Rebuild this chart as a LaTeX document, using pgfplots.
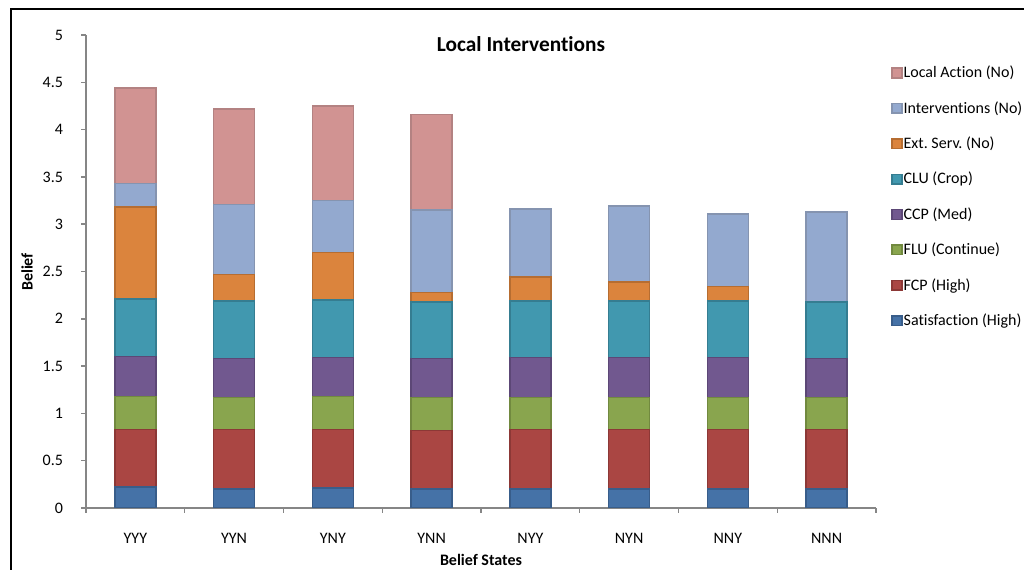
\documentclass[border=0pt]{standalone}
\usepackage{pgfplots}
\pgfplotsset{compat=1.18}
\usepackage{fontspec}
\setmainfont{Carlito}[Ligatures=NoCommon]
\frenchspacing

% series fills and edges
\definecolor{satF}{HTML}{4572A7}\definecolor{satE}{HTML}{385D8A}
\definecolor{fcpF}{HTML}{AA4643}\definecolor{fcpE}{HTML}{8C3836}
\definecolor{fluF}{HTML}{89A54E}\definecolor{fluE}{HTML}{71893F}
\definecolor{ccpF}{HTML}{71588F}\definecolor{ccpE}{HTML}{5C4776}
\definecolor{cluF}{HTML}{4198AF}\definecolor{cluE}{HTML}{357D91}
\definecolor{extF}{HTML}{DB843D}\definecolor{extE}{HTML}{B66D31}
\definecolor{intF}{HTML}{93A9CF}\definecolor{intE}{HTML}{8594B0}
\definecolor{locF}{HTML}{D19392}\definecolor{locE}{HTML}{B38282}
\definecolor{axisgray}{HTML}{868686}

\begin{document}
\begin{tikzpicture}[x=1pt,y=1pt]
\useasboundingbox (0,0) rectangle (768,427.5);
% outer chart frame
\draw[black,line width=1.1pt] (8.25,-2) -- (8.25,420.75) -- (770,420.75);

\begin{axis}[
  at={(64.5pt,46.5pt)}, anchor=south west,
  scale only axis, width=592.5pt, height=354.75pt,
  ybar stacked, bar width=30.75pt,
  xmin=-0.5, xmax=7.5, ymin=0, ymax=5,
  axis x line*=bottom, axis y line*=left,
  axis line style={axisgray,line width=1.1pt},
  xtick={0,...,7},
  xticklabels={YYY,YYN,YNY,YNN,NYY,NYN,NNY,NNN},
  minor xtick={-0.5,0.5,...,7.5},
  major x tick style={draw=none},
  minor x tick style={axisgray,line width=1.1pt},
  ytick={0,0.5,...,5},
  yticklabels={0,0.5,1,1.5,2,2.5,3,3.5,4,4.5,5},
  y tick style={axisgray,line width=1.1pt},
  tick align=outside,
  major tick length=3.75pt, minor tick length=3.75pt,
  tick label style={font=\fontsize{12}{14}\selectfont},
  yticklabel style={xshift=-10pt},
  xticklabel style={yshift=-12pt},
  /pgf/number format/assume math mode=true,
  reverse legend,
  legend cell align=left,
  legend image code/.code={\draw[#1] (0pt,-3.6pt) rectangle (7.4pt,3.6pt);},
  legend style={at={(1.019,0.937)}, anchor=north west, draw=none, fill=none,
    inner sep=0pt, row sep=14.65pt, font=\fontsize{12}{14}\selectfont,
    nodes={inner sep=0.8pt}},
  every axis plot/.append style={line width=1.1pt},
]
\addplot[fill=satF,draw=satE] coordinates {(0,0.22) (1,0.20) (2,0.21) (3,0.20) (4,0.20) (5,0.20) (6,0.20) (7,0.20)};
\addlegendentry{Satisfaction (High)}
\addplot[fill=fcpF,draw=fcpE] coordinates {(0,0.61) (1,0.63) (2,0.62) (3,0.62) (4,0.63) (5,0.63) (6,0.63) (7,0.63)};
\addlegendentry{FCP (High)}
\addplot[fill=fluF,draw=fluE] coordinates {(0,0.35) (1,0.34) (2,0.35) (3,0.35) (4,0.34) (5,0.34) (6,0.34) (7,0.34)};
\addlegendentry{FLU (Continue)}
\addplot[fill=ccpF,draw=ccpE] coordinates {(0,0.42) (1,0.41) (2,0.41) (3,0.41) (4,0.42) (5,0.42) (6,0.42) (7,0.41)};
\addlegendentry{CCP (Med)}
\addplot[fill=cluF,draw=cluE] coordinates {(0,0.61) (1,0.61) (2,0.61) (3,0.60) (4,0.60) (5,0.60) (6,0.60) (7,0.60)};
\addlegendentry{CLU (Crop)}
\addplot[fill=extF,draw=extE] coordinates {(0,0.97) (1,0.28) (2,0.50) (3,0.10) (4,0.25) (5,0.20) (6,0.15) (7,0)};
\addlegendentry{Ext.\ Serv. (No)}
\addplot[fill=intF,draw=intE] coordinates {(0,0.25) (1,0.74) (2,0.55) (3,0.87) (4,0.72) (5,0.80) (6,0.77) (7,0.95)};
\addlegendentry{Interventions (No)}
\addplot[fill=locF,draw=locE] coordinates {(0,1.01) (1,1.01) (2,1.00) (3,1.01)};
\addlegendentry{Local Action (No)}
\end{axis}

\node[font=\fontsize{16}{19}\selectfont\bfseries] at (390.75,394.5) {Local Interventions};
\node[font=\fontsize{12}{14}\selectfont\bfseries,rotate=90] at (20.25,223.5) {Belief};
\node[font=\fontsize{12}{14}\selectfont\bfseries] at (360.75,7.5) {Belief States};
\end{tikzpicture}
\end{document}
